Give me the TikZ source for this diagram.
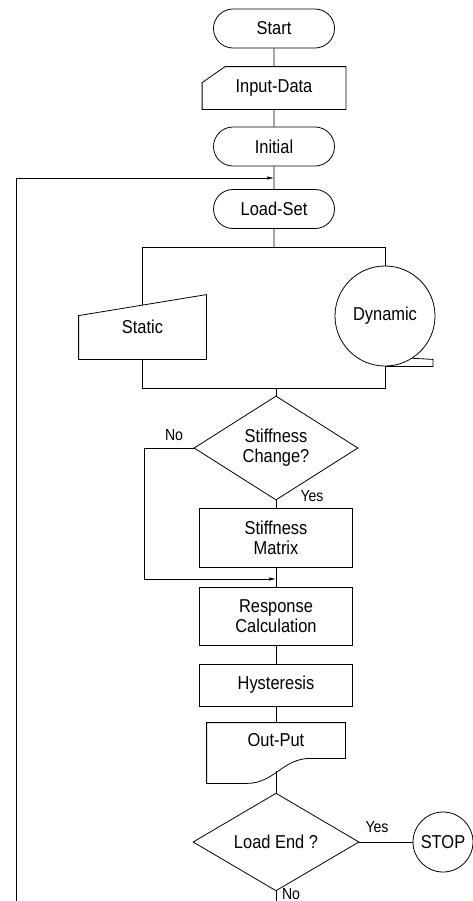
\documentclass[tikz,border=0pt]{standalone}
\usepackage{fontspec}
\setmainfont{Liberation Sans}[FakeStretch=0.88]
\usetikzlibrary{shapes.geometric,shapes.misc,arrows.meta,calc}

\tikzset{
  term/.style={rounded rectangle,draw,minimum width=90.75pt,minimum height=29.25pt,inner sep=0pt},
  proc/.style={rectangle,draw,minimum width=114.75pt,inner sep=0pt,align=center},
  decide/.style={diamond,draw,inner sep=0pt,align=center},
  blank/.style={rectangle,inner sep=0pt,align=center},
  lbl/.style={inner sep=0.75pt,font=\fontsize{12}{14}\selectfont},
  arr/.style={-{Latex[length=5pt,width=2.6pt]}},
}

\begin{document}
\begin{tikzpicture}[x=0.75pt,y=0.75pt,yscale=-1,xscale=1,line width=0.6pt,font=\fontsize{14}{15}\selectfont]
\useasboundingbox (0,0) rectangle (473,901);

%Terminals and boxes
\node[term] (start) at (274,28.5) {Start};
\node[blank,minimum width=107.25pt,minimum height=31.5pt] (input) at (274,88) {Input-Data};
\node[term] (init) at (274,146.5) {Initial};
\node[term] (load) at (274,209) {Load-Set};
\node[blank,minimum width=95.25pt,minimum height=48pt] (static) at (142.5,327) {Static};
\node[circle,draw,minimum size=75pt,inner sep=0pt] (dyn) at (385,316) {Dynamic};
\node[decide,minimum width=123pt,minimum height=60.75pt] (stiff) at (276,448) {Stiffness\\Change?};
\node[proc,minimum height=44.25pt] (stmat) at (276,537.5) {Stiffness\\Matrix};
\node[proc,minimum height=43.5pt] (resp) at (276,616) {Response\\Calculation};
\node[proc,minimum height=31.5pt] (hyst) at (276,685) {Hysteresis};
\node[blank,minimum width=103.5pt,minimum height=26.25pt] (out) at (276,740.5) {Out-Put};
\node[decide,minimum width=124.5pt,minimum height=62.25pt] (lend) at (276,842) {Load End ?};
\node[circle,draw,minimum size=45pt,inner sep=0pt] (stop) at (443,842) {STOP};

% Text Node
\node[lbl] (no1) at (174,435) {No};
\node[lbl] (yes1) at (312,496) {Yes};
\node[lbl] (yes2) at (377,827) {Yes};
\node[lbl] (no2) at (291,894) {No};

%Shape: Manual Input
\draw (input.south west) -- (input.south east) -- (input.north east) -- ($(input.north west)+(23,0)$) -- ($(input.north west)+(0,16)$) -- cycle;
\coordinate (stnw) at ($(static.north west)+(0,21)$);
\draw (static.south west) -- (static.south east) -- (static.north east) -- (stnw) -- cycle;
%Shape: Tape tail
\draw (dyn.south) -- ++(48,0) -- ++(0,-7) -- (dyn.-57);
%Shape: Document
\draw (out.south east) -- (out.north east) -- (out.north west) -- ($(out.south west)+(0,25)$) -- ($(out.south west)+(40,25)$) .. controls +(28,0) and +(-28,0) .. ($(out.south east)+(-35,0)$) -- cycle;

%Points on the lines
\coordinate (stin) at ($(stnw)!0.5!(static.north east)$);
\coordinate (fork) at (274,247);
\coordinate (join) at (276,388);
\coordinate (byp) at ($(stiff.west)+(-49,0)$);
\coordinate (mrg) at (276,579);
\coordinate (outb) at ($(out.south)+(0,13)$);
\coordinate (lptop) at (274,178);
\coordinate (lpbot) at (16,901);
\coordinate (bot) at (276,901);

%Straight Lines
\draw (start) -- (input);
\draw (input) -- (init);
\draw (init) -- (load);
\draw (load) -- (fork);
\draw (fork) -| (stin);
\draw (fork) -| (dyn.north);
\draw (static.south) |- (join);
\draw (dyn.south) |- (join);
\draw (join) -- (stiff.north);
\draw (stiff) -- (stmat);
\draw (stmat) -- (resp);
\draw[arr] (stiff.west) -- (byp) |- (mrg);
\draw (resp) -- (hyst);
\draw (hyst) -- (out.north);
\draw (outb) -- (lend.north);
\draw (lend) -- (stop);
\draw (lend.south) -- (bot);
\draw[arr] (lpbot) |- (lptop);
\end{tikzpicture}
\end{document}
